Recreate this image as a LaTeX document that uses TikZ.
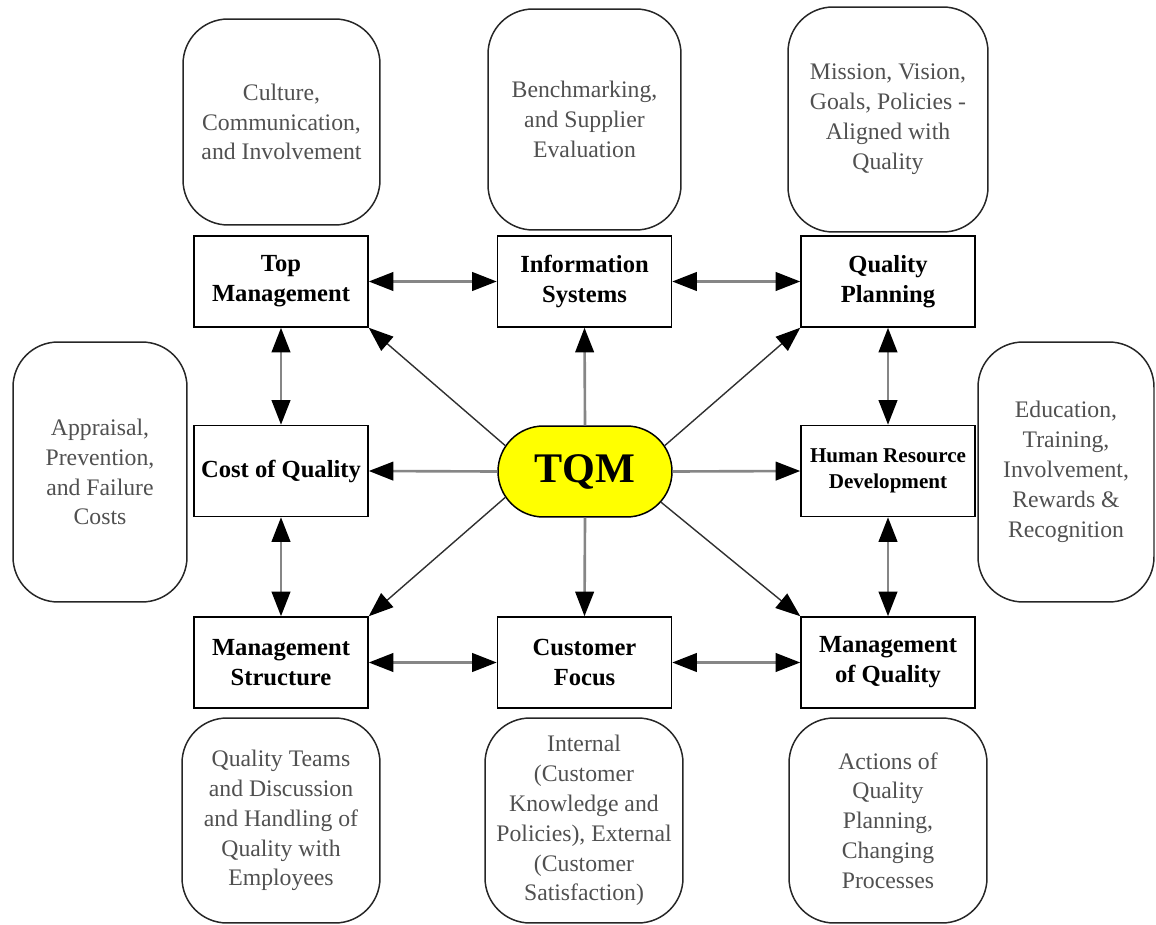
\documentclass[tikz,border=0pt]{standalone}
\usepackage{fontspec}
\setmainfont{Liberation Serif}
\usetikzlibrary{arrows.meta,shapes.misc}
\definecolor{notegray}{HTML}{505050}
\definecolor{linkgray}{HTML}{868686}
\definecolor{spokegray}{HTML}{303030}
\definecolor{tqmyellow}{HTML}{FFFF00}

\begin{document}
\begin{tikzpicture}[x=0.02cm,y=-0.02cm,
  tip/.tip={Triangle[length=14pt,width=10.5pt,color=black,fill=black]},
  topic/.style={draw=black, line width=0.85pt, rectangle,
    minimum width=3.48cm, minimum height=1.82cm, inner sep=0pt, align=center,
    font=\fontsize{14}{17}\selectfont\bfseries},
  note/.style={draw=black!85, line width=0.85pt, rectangle, rounded corners=0.9cm,
    inner sep=0pt, align=center, text=notegray,
    font=\fontsize{13.5}{17}\selectfont},
  core/.style={draw=black, line width=0.85pt, rounded rectangle, fill=tqmyellow,
    minimum width=3.48cm, minimum height=1.82cm, inner sep=0pt,
    font=\fontsize{24}{28}\selectfont\bfseries},
  link/.style={draw=linkgray, line width=1.5pt, {tip}-{tip}},
  ray/.style={draw=linkgray, line width=1.5pt, -{tip}},
  spoke/.style={draw=spokegray, line width=0.8pt, -{tip}}
]
\useasboundingbox (0,0) rectangle (1156,925);

% centre
\node[core] (tqm) at (585,471.5) {TQM};

% the eight topic boxes
\node[topic] (tm) at (281,281.5) {Top\\Management};
\node[topic] (is) at (584.5,281.5) {Information\\Systems};
\node[topic] (qp) at (888,281.5) {Quality\\Planning};
\node[topic] (cq) at (281,471) {Cost of Quality};
\node[topic, font=\fontsize{12}{15}\selectfont\bfseries] (hr) at (888,471) {Human Resource\\Development};
\node[topic] (ms) at (281,662.5) {Management\\Structure};
\node[topic] (cf) at (584.5,662.5) {Customer\\Focus};
\node[topic] (mq) at (888,662.5) {Management\\of Quality};

% descriptive notes
\node[note, minimum width=3.94cm, minimum height=4.12cm] (ntm) at (281.5,122)
  {Culture,\\Communication,\\and Involvement};
\node[note, minimum width=3.86cm, minimum height=4.42cm] (nis) at (584.5,119.5)
  {Benchmarking,\\and Supplier\\Evaluation};
\node[note, minimum width=4.0cm, minimum height=4.5cm] (nqp) at (888,119.5)
  {Mission, Vision,\\Goals, Policies -\\Aligned with\\Quality};
\node[note, minimum width=3.48cm, minimum height=5.2cm] (ncq) at (100,472)
  {Appraisal,\\Prevention,\\and Failure\\Costs};
\node[note, minimum width=3.52cm, minimum height=5.2cm] (nhr) at (1066,472)
  {Education,\\Training,\\Involvement,\\Rewards \&\\Recognition};
\node[note, minimum width=3.96cm, minimum height=4.1cm] (nms) at (281,820.5)
  {Quality Teams\\and Discussion\\and Handling of\\Quality with\\Employees};
\node[note, minimum width=3.96cm, minimum height=4.1cm] (ncf) at (584,820.5)
  {Internal\\(Customer\\Knowledge and\\Policies), External\\(Customer\\Satisfaction)};
\node[note, minimum width=3.96cm, minimum height=4.1cm] (nmq) at (888,820.5)
  {Actions of\\Quality\\Planning,\\Changing\\Processes};

% links between neighbouring topics
\draw[link] (tm.east) -- (is.west);
\draw[link] (is.east) -- (qp.west);
\draw[link] (ms.east) -- (cf.west);
\draw[link] (cf.east) -- (mq.west);
\draw[link] (tm.south) -- (cq.north);
\draw[link] (cq.south) -- (ms.north);
\draw[link] (qp.south) -- (hr.north);
\draw[link] (hr.south) -- (mq.north);

% straight rays out of TQM
\draw[ray] (tqm.north) -- (is.south);
\draw[ray] (tqm.south) -- (cf.north);
\draw[ray] (tqm.west) -- (cq.east);
\draw[ray] (tqm.east) -- (hr.west);

% diagonal spokes out of TQM
\draw[spoke] (tqm.162) -- (tm.south east);
\draw[spoke] (tqm.18) -- (qp.south west);
\draw[spoke] (tqm.198) -- (ms.north east);
\draw[spoke] (tqm.-22) -- (mq.north west);
\end{tikzpicture}
\end{document}
